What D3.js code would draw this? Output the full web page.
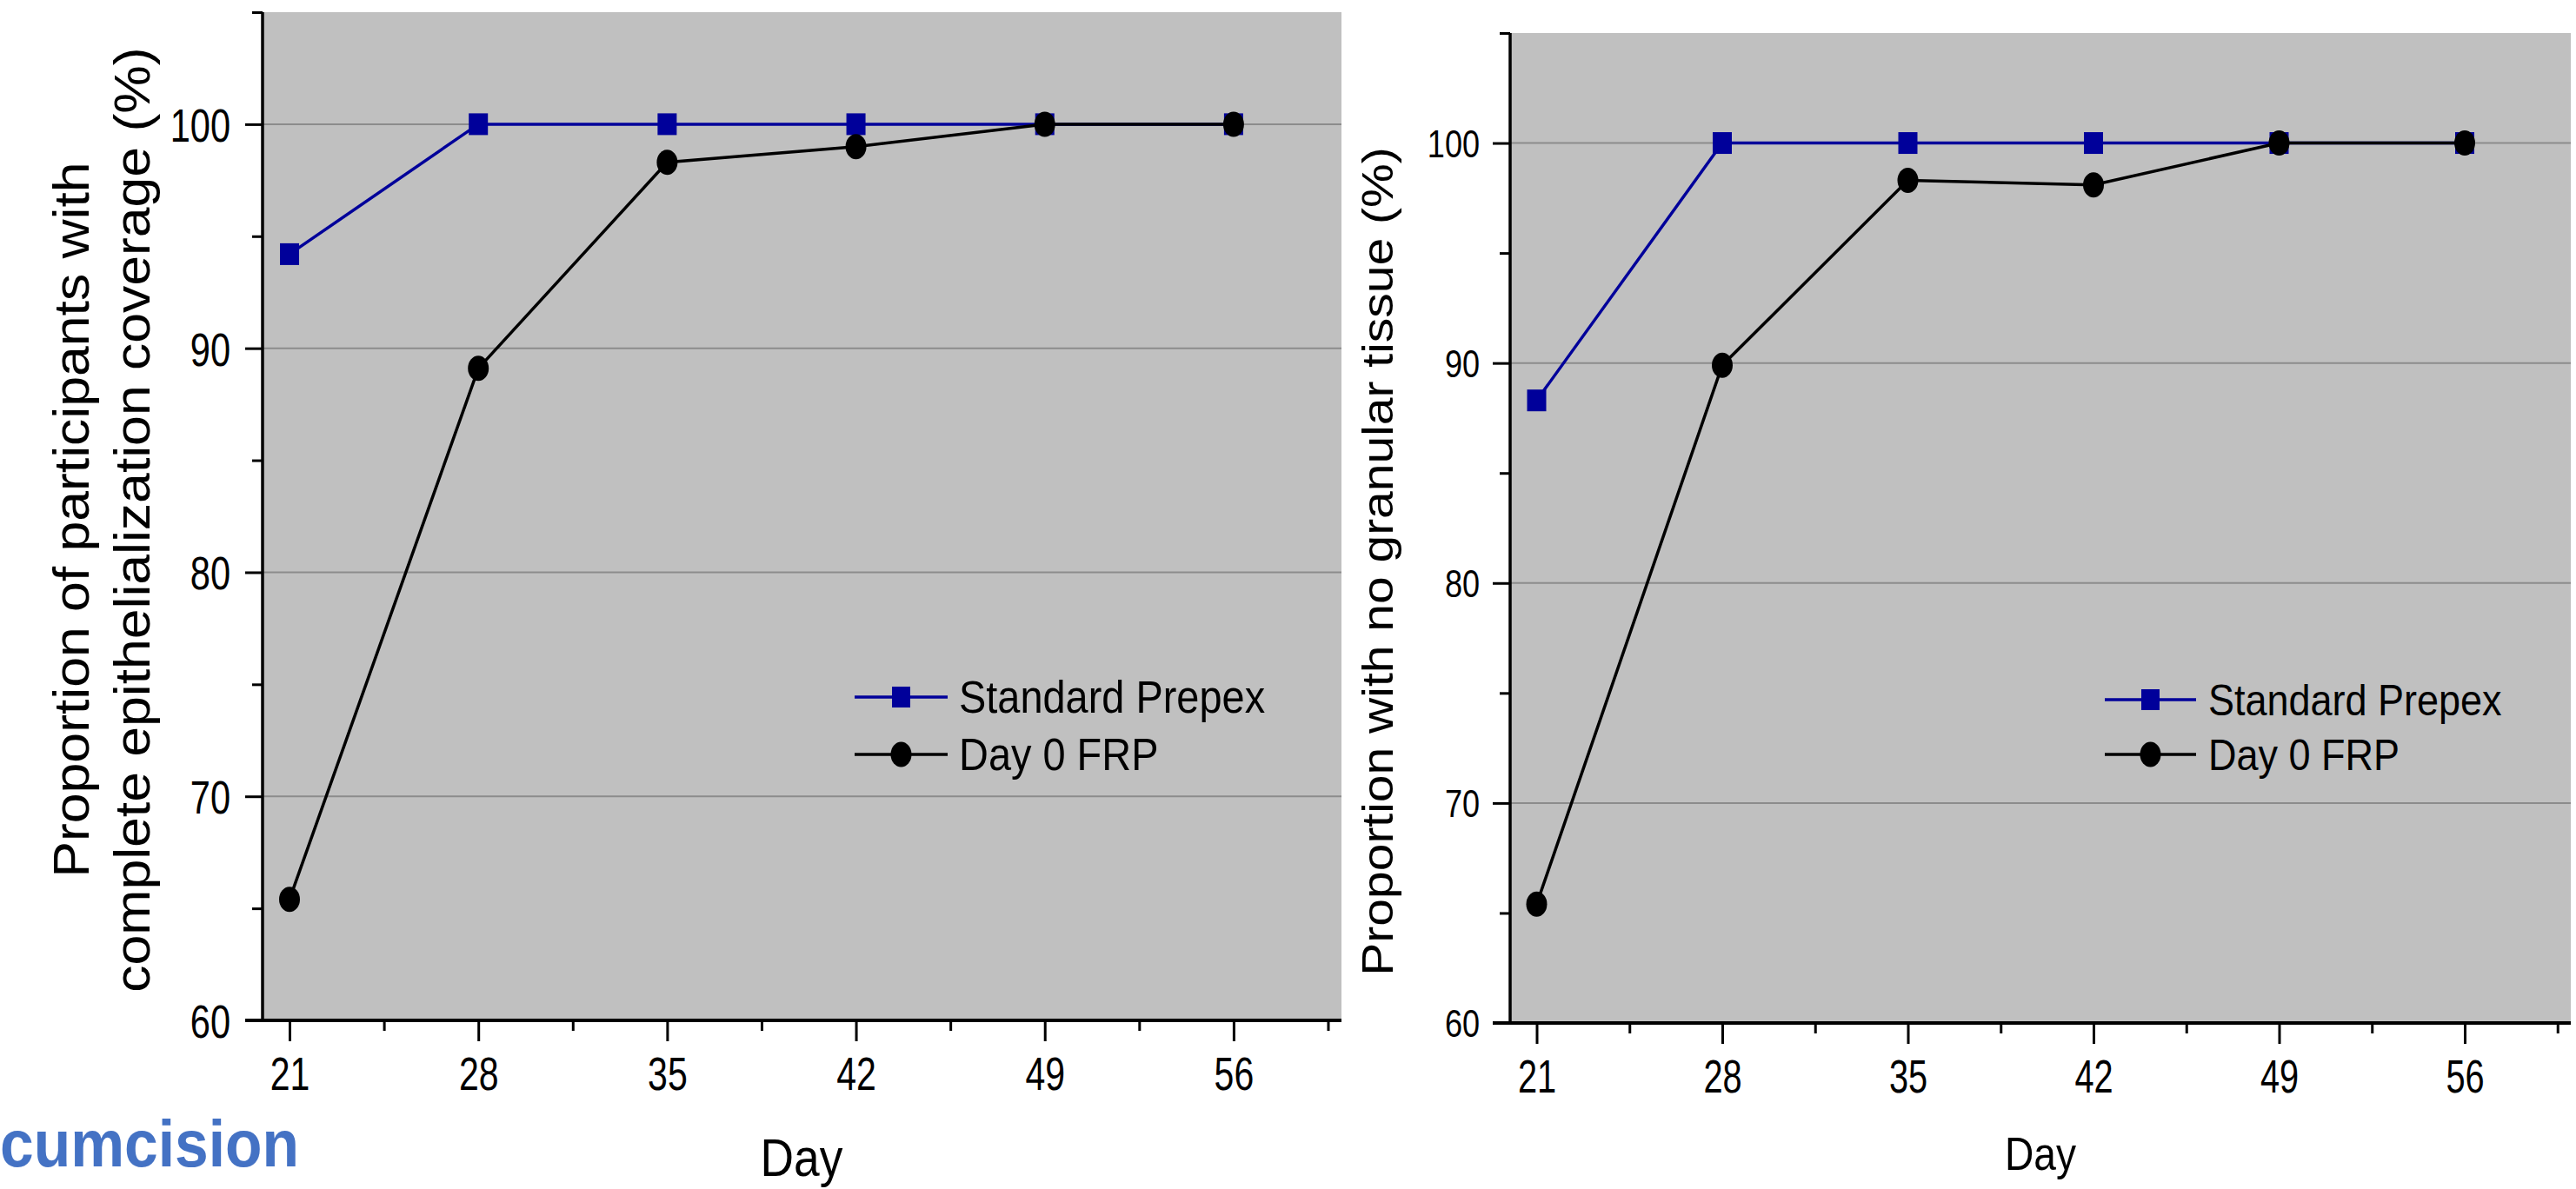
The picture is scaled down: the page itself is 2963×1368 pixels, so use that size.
<!DOCTYPE html>
<html><head><meta charset="utf-8">
<script src="https://cdn.jsdelivr.net/npm/d3@7"></script>
<style>
html,body{margin:0;padding:0;background:#fff;}
svg{display:block;}
text{font-family:"Liberation Sans",Arial,sans-serif;fill:#000;}
</style></head>
<body>
<svg id="chart" width="2963" height="1368"></svg>
<script>
// ---------- data ----------
const days = [21, 28, 35, 42, 49, 56];
const prepexLeft = [94.2, 100, 100, 100, 100, 100];
const frpLeft = [65.4, 89.1, 98.3, 99.0, 100, 100];
const prepexRight = [88.3, 100, 100, 100, 100, 100];
const frpRight = [65.4, 89.9, 98.3, 98.1, 100, 100];
const seriesNames = ["Standard Prepex", "Day 0 FRP"];
const yMajorTicks = [60, 70, 80, 90, 100];
const yMinorTicks = [65, 75, 85, 95, 105];
const xMajorTicks = [21, 28, 35, 42, 49, 56];
const xMinorTicks = [24.5, 31.5, 38.5, 45.5, 52.5, 59.5];
const gridTicks = [70, 80, 90, 100];
const xDomain = [20, 60];
const yDomain = [60, 105];
const leftTitleLines = ["Proportion of participants with", "complete epithelialization coverage (%)"];
const rightTitle = ["Proportion with no granular tissue (%)"];
const xTitle = "Day";
const slideTitleFragment = "cumcision";

// ---------- styles ----------
const BLUE = "#00009a";
const BLACK = "#000";
const PLOT_BG = "#c0c0c0";
const GRID = "#8c8c8c";

const svg = d3.select("#chart");
svg.append("rect").attr("width", 2963).attr("height", 1368).attr("fill", "#fff");

const panels = [
  {
    px: [302, 1543], py: [1174, 14],
    prepex: prepexLeft, frp: frpLeft,
    yTickFont: 54, yTickSx: 0.77, yTickGap: 37,
    xTickFont: 54, xTickSx: 0.76,
    titleLines: leftTitleLines, titleFont: 62.5, titleSx: 0.92,
    titleBase: [102, 172], titleCenterY: 598,
    dayFont: 62, daySx: 0.86, dayX: 922, dayY: 1353,
    legend: {x0: 983, x1: 1090, tx: 1103, y: [802, 868], font: 51, sx: 0.92}
  },
  {
    px: [1737, 2957], py: [1177, 38],
    prepex: prepexRight, frp: frpRight,
    yTickFont: 44, yTickSx: 0.82, yTickGap: 35,
    xTickFont: 53, xTickSx: 0.75,
    titleLines: rightTitle, titleFont: 57, titleSx: 0.88,
    titleBase: [1602], titleCenterY: 646,
    dayFont: 53, daySx: 0.87, dayX: 2347, dayY: 1346,
    legend: {x0: 2421, x1: 2526, tx: 2540, y: [805, 868], font: 50, sx: 0.9}
  }
];

panels.forEach(p => {
  const x = d3.scaleLinear().domain(xDomain).range(p.px);
  const y = d3.scaleLinear().domain(yDomain).range(p.py);
  const g = svg.append("g");

  // plot background
  g.append("rect")
    .attr("x", x(xDomain[0])).attr("y", y(yDomain[1]))
    .attr("width", x(xDomain[1]) - x(xDomain[0]))
    .attr("height", y(yDomain[0]) - y(yDomain[1]))
    .attr("fill", PLOT_BG);

  // gridlines
  g.selectAll(".grid").data(gridTicks).join("line")
    .attr("x1", x(xDomain[0])).attr("x2", x(xDomain[1]))
    .attr("y1", d => y(d)).attr("y2", d => y(d))
    .attr("stroke", GRID).attr("stroke-width", 2);

  // series
  const line = d3.line().x((d, i) => x(days[i])).y(d => y(d));
  g.append("path").datum(p.prepex).attr("d", line)
    .attr("fill", "none").attr("stroke", BLUE).attr("stroke-width", 3.5);
  g.selectAll(".sq").data(p.prepex).join("rect")
    .attr("x", (d, i) => x(days[i]) - 11).attr("y", d => y(d) - 12.5)
    .attr("width", 22).attr("height", 25).attr("fill", BLUE);
  g.append("path").datum(p.frp).attr("d", line)
    .attr("fill", "none").attr("stroke", BLACK).attr("stroke-width", 3.5);
  g.selectAll(".ci").data(p.frp).join("ellipse")
    .attr("cx", (d, i) => x(days[i])).attr("cy", d => y(d))
    .attr("rx", 12).attr("ry", 14.5).attr("fill", BLACK);

  // axes
  const axStyle = sel => {
    sel.select(".domain").remove();
    sel.selectAll("line").attr("stroke", "#000").attr("stroke-width", 3);
  };
  const yAx = g.append("g").attr("transform", `translate(${x(xDomain[0])},0)`)
    .call(d3.axisLeft(y).tickValues(yMajorTicks).tickSize(20).tickPadding(0).tickFormat(d3.format("d")))
    .call(axStyle);
  yAx.selectAll("text")
    .attr("font-size", p.yTickFont)
    .attr("font-family", "Liberation Sans, Arial, sans-serif")
    .attr("x", -p.yTickGap / p.yTickSx)
    .attr("dy", "0.36em")
    .attr("transform", `scale(${p.yTickSx},1)`);
  g.append("g").attr("transform", `translate(${x(xDomain[0])},0)`)
    .call(d3.axisLeft(y).tickValues(yMinorTicks).tickSize(12).tickFormat(""))
    .call(axStyle);
  const xAx = g.append("g").attr("transform", `translate(0,${y(yDomain[0])})`)
    .call(d3.axisBottom(x).tickValues(xMajorTicks).tickSize(24).tickPadding(0).tickFormat(d3.format("d")))
    .call(axStyle);
  xAx.selectAll("text")
    .attr("font-size", p.xTickFont)
    .attr("font-family", "Liberation Sans, Arial, sans-serif")
    .attr("y", 80).attr("dy", 0)
    .attr("transform", `scale(${p.xTickSx},1)`);
  g.append("g").attr("transform", `translate(0,${y(yDomain[0])})`)
    .call(d3.axisBottom(x).tickValues(xMinorTicks).tickSize(12).tickFormat(""))
    .call(axStyle);
  g.append("line")
    .attr("x1", x(xDomain[0])).attr("x2", x(xDomain[0]))
    .attr("y1", y(yDomain[1])).attr("y2", y(yDomain[0]) + 1.5)
    .attr("stroke", "#000").attr("stroke-width", 3.5);
  g.append("line")
    .attr("x1", x(xDomain[0]) - 20).attr("x2", x(xDomain[1]))
    .attr("y1", y(yDomain[0])).attr("y2", y(yDomain[0]))
    .attr("stroke", "#000").attr("stroke-width", 4);

  // y title (centred lines)
  p.titleLines.forEach((t, i) => {
    g.append("text")
      .attr("transform", `translate(${p.titleBase[i]},${p.titleCenterY}) scale(${p.titleSx},1) rotate(-90)`)
      .attr("font-size", p.titleFont)
      .attr("text-anchor", "middle")
      .text(t);
  });

  // x title
  g.append("text")
    .attr("transform", `translate(${p.dayX},${p.dayY}) scale(${p.daySx},1)`)
    .attr("font-size", p.dayFont).attr("text-anchor", "middle")
    .text(xTitle);

  // legend
  const L = p.legend;
  const leg = g.append("g");
  [0, 1].forEach(k => {
    const col = k === 0 ? BLUE : BLACK;
    leg.append("line").attr("x1", L.x0).attr("x2", L.x1)
      .attr("y1", L.y[k]).attr("y2", L.y[k])
      .attr("stroke", col).attr("stroke-width", 3.5);
    const mx = (L.x0 + L.x1) / 2;
    if (k === 0) {
      leg.append("rect").attr("x", mx - 10.5).attr("y", L.y[k] - 12)
        .attr("width", 21).attr("height", 24).attr("fill", BLUE);
    } else {
      leg.append("ellipse").attr("cx", mx).attr("cy", L.y[k])
        .attr("rx", 12).attr("ry", 14.5).attr("fill", BLACK);
    }
    leg.append("text")
      .attr("transform", `translate(${L.tx},${L.y[k] + 18}) scale(${L.sx},1)`)
      .attr("font-size", L.font)
      .text(seriesNames[k]);
  });
});

// slide title fragment (partly cut off at the left edge)
svg.append("text")
  .attr("transform", "translate(344,1342) scale(0.915,1)")
  .attr("text-anchor", "end")
  .attr("font-size", 76).attr("font-weight", "bold")
  .style("fill", "#4472c4")
  .text(slideTitleFragment);
</script>
</body></html>
